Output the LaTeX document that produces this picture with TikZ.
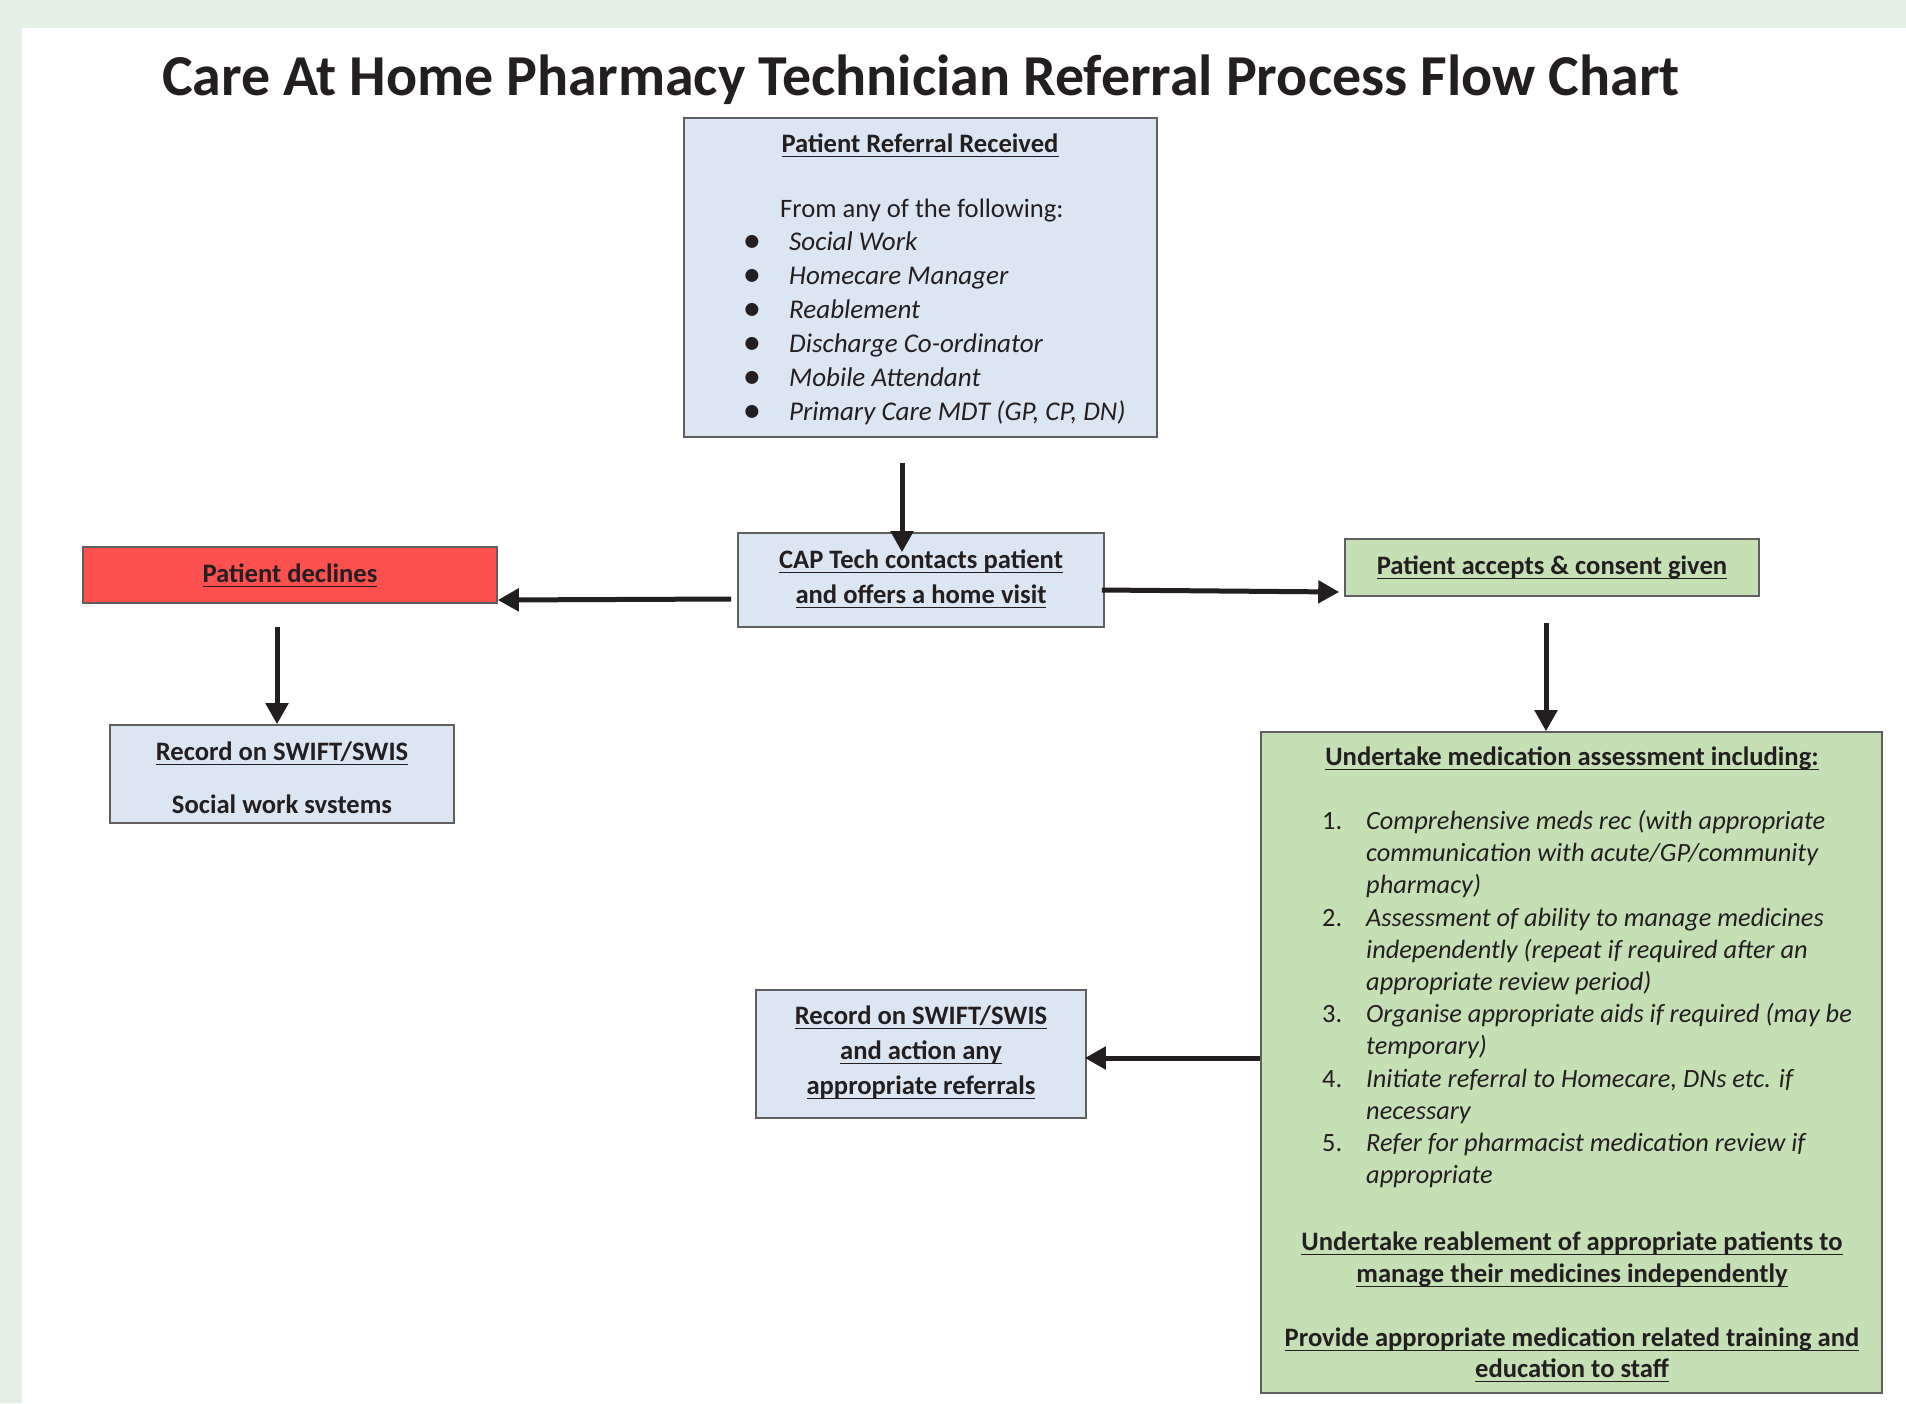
\documentclass[tikz,border=0pt]{standalone}
\usepackage{fontspec}
\setmainfont{Carlito}
\usetikzlibrary{arrows.meta,calc}
\definecolor{bandc}{HTML}{E2F1E3}
\definecolor{boxblue}{HTML}{DCE6F2}
\definecolor{boxgreen}{HTML}{C5E0B4}
\definecolor{boxred}{HTML}{FF5050}
\definecolor{edgec}{HTML}{5F5F5F}
\definecolor{ink}{HTML}{231F20}
\newlength\tmpw
\newlength\ulw
\newcommand\ulx[1]{\settowidth\ulw{#1}\rlap{\rule[-5.3pt]{\ulw}{1.8pt}}#1}
\begin{document}
\settowidth\tmpw{\fontsize{10pt}{12pt}\selectfont\bfseries Patient Referral Received}%
\pgfmathsetmacro\bsz{10*277/\tmpw}%
\settowidth\tmpw{\fontsize{10pt}{12pt}\selectfont\itshape Comprehensive meds rec (with appropriate}%
\pgfmathsetmacro\isz{10*459/\tmpw}%
\pgfmathsetmacro\iszb{\isz*1.026}%
\settowidth\tmpw{\fontsize{10pt}{12pt}\selectfont\bfseries Care At Home Pharmacy Technician Referral Process Flow Chart}%
\pgfmathsetmacro\tsz{10*1518/\tmpw}%
\pgfmathsetmacro\bulsz{\bsz*1.15}%
\begin{tikzpicture}[x=1pt,y=-1pt,
  box/.style={draw=edgec, line width=1.6pt, inner sep=0pt},
  btxt/.style={inner sep=0pt, text=ink, anchor=base, font=\fontsize{\bsz pt}{\bsz pt}\selectfont\bfseries},
  rtxt/.style={inner sep=0pt, text=ink, anchor=base west, font=\fontsize{\bsz pt}{\bsz pt}\selectfont},
  bultxt/.style={inner sep=0pt, text=ink, anchor=base, font=\fontsize{\bulsz pt}{\bulsz pt}\selectfont\bfseries},
  itxt/.style={inner sep=0pt, text=ink, anchor=base west, font=\fontsize{\isz pt}{\isz pt}\selectfont\itshape},
  itxtb/.style={inner sep=0pt, text=ink, anchor=base west, font=\fontsize{\iszb pt}{\iszb pt}\selectfont\itshape},
  ntxt/.style={inner sep=0pt, text=ink, anchor=base west, font=\fontsize{\isz pt}{\isz pt}\selectfont},
  arr/.style={line width=5pt, draw=ink, -{Triangle[length=21pt,width=22pt]}}
]
\useasboundingbox (0,0) rectangle (1906,1403);
\fill[bandc] (0,0) rectangle (1906,1403);
\fill[white] (22,28) rectangle (1906,1403);

% title
\node[inner sep=0pt, text=ink, anchor=base, font=\fontsize{\tsz pt}{\tsz pt}\selectfont\bfseries] (title) at (921,95) {Care At Home Pharmacy Technician Referral Process Flow Chart};

% boxes
\node[box, fill=boxblue, minimum width=473pt, minimum height=319pt] (b1) at (920.5,277.5) {};
\node[box, fill=boxblue, minimum width=366pt, minimum height=94pt] (cap) at (921,580) {};
\node[box, fill=boxred, minimum width=414pt, minimum height=56pt] (dec) at (290,575) {};
\node[box, fill=boxgreen, minimum width=414pt, minimum height=57pt] (acc) at (1552,567.5) {};
\node[box, fill=boxblue, minimum width=344pt, minimum height=98pt] (rec1) at (282,774) {};
\node[box, fill=boxgreen, minimum width=621pt, minimum height=661pt] (assess) at (1571.5,1062.5) {};
\node[box, fill=boxblue, minimum width=330pt, minimum height=128pt] (rec2) at (921,1054) {};

% box 1 text
\node[btxt] (b1h) at (920,152) {\ulx{Patient Referral Received}};
\node[rtxt] (b1f) at (780,217) {From any of the following:};
\foreach \yy/\tt [count=\i] in {250/Social Work, 284/Homecare Manager, 318/Reablement, 352/Discharge Co-ordinator, 386/Mobile Attendant, 420/{Primary Care MDT (GP, CP, DN)}}{
  \node[bultxt] (bul\i) at (752,\yy) {•};
  \node[itxtb] (it\i) at (789,\yy) {\tt};
}

% CAP text
\node[btxt] (capa) at (921,568) {\ulx{CAP Tech contacts patient}};
\node[btxt] (capb) at (921,603) {\ulx{and offers a home visit}};

% declines / accepts
\node[btxt] (dect) at (290,582) {\ulx{Patient declines}};
\node[btxt] (acct) at (1552,574) {\ulx{Patient accepts \& consent given}};

% record 1
\node[btxt] (rec1a) at (282,760) {\ulx{Record on SWIFT/SWIS}};
\node[btxt] (rec1b) at (282,813) {Social work svstems};

% record 2
\node[btxt] (rec2a) at (921,1024) {\ulx{Record on SWIFT/SWIS}};
\node[btxt] (rec2b) at (921,1059) {\ulx{and action any}};
\node[btxt] (rec2c) at (921,1094) {\ulx{appropriate referrals}};

% assessment text
\node[btxt] (ash) at (1572,765) {\ulx{Undertake medication assessment including:}};
\node[ntxt] (n1) at (1322,829) {1.};
\node[ntxt] (n2) at (1322,926) {2.};
\node[ntxt] (n3) at (1322,1022) {3.};
\node[ntxt] (n4) at (1322,1087) {4.};
\node[ntxt] (n5) at (1322,1151) {5.};
\foreach \yy/\tt [count=\i] in {
  829/{Comprehensive meds rec (with appropriate},
  861/{communication with acute/GP/community},
  893/{pharmacy)},
  926/{Assessment of ability to manage medicines},
  958/{independently (repeat if required after an},
  990/{appropriate review period)},
  1022/{Organise appropriate aids if required (may be},
  1054/{temporary)},
  1087/{Initiate referral to Homecare, DNs etc. if},
  1119/{necessary},
  1151/{Refer for pharmacist medication review if},
  1183/{appropriate}}{
  \node[itxt] (al\i) at (1366,\yy) {\tt};
}
\node[btxt] (asr1) at (1572,1250) {\ulx{Undertake reablement of appropriate patients to}};
\node[btxt] (asr2) at (1572,1282) {\ulx{manage their medicines independently}};
\node[btxt] (asp1) at (1572,1346) {\ulx{Provide appropriate medication related training and}};
\node[btxt] (asp2) at (1572,1377) {\ulx{education to staff}};

% arrows
\draw[arr] ($(b1.south)+(-18.5,25)$) -- ($(cap.north)+(-19,20)$);
\draw[arr] ($(cap.west)+(-6,19)$) -- ($(dec.east)+(0,25)$);
\draw[arr] ($(cap.east)+(-3,10)$) -- ($(acc.west)+(-5,24.5)$);
\draw[arr] ($(dec.south)+(-13,23)$) -- ($(rec1.north)+(-5,0)$);
\draw[arr] ($(acc.south)+(-6,26)$) -- ($(assess.north)+(-25.5,0)$);
\draw[arr] ($(assess.west)+(0,-4.5)$) -- ($(rec2.east)+(-2,4)$);
\end{tikzpicture}
\end{document}
